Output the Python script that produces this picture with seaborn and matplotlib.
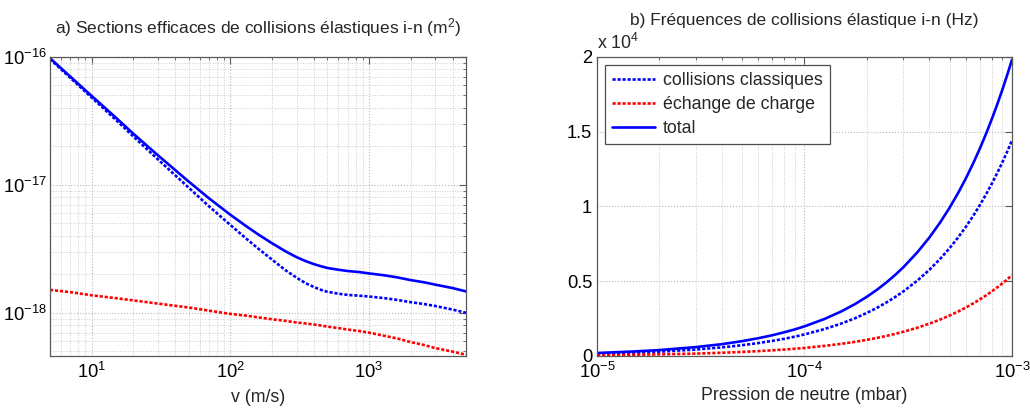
import pandas as pd
import matplotlib
matplotlib.use("Agg")
import matplotlib.pyplot as plt
import matplotlib.ticker as mticker
import seaborn as sns

# a) elastic ion-neutral cross sections (m^2) vs velocity (m/s)
v_ms = [5, 7, 10, 15, 20, 30, 50, 70, 100, 130, 160, 200, 250, 300, 350,
        400, 450, 500, 600, 700, 850, 1000, 1300, 1600, 2000, 2500, 3000,
        4000, 5000]
sigma_classic = [9.6e-17, 6.85e-17, 4.8e-17, 3.2e-17, 2.38e-17, 1.58e-17,
                 9.5e-18, 6.8e-18, 4.85e-18, 3.8e-18, 3.15e-18, 2.6e-18,
                 2.15e-18, 1.88e-18, 1.7e-18, 1.59e-18, 1.51e-18, 1.46e-18,
                 1.41e-18, 1.38e-18, 1.36e-18, 1.34e-18, 1.3e-18, 1.26e-18,
                 1.21e-18, 1.17e-18, 1.13e-18, 1.06e-18, 1.0e-18]
sigma_exchange = [1.51e-18, 1.45e-18, 1.37e-18, 1.3e-18, 1.25e-18, 1.18e-18,
                  1.1e-18, 1.04e-18, 9.8e-19, 9.5e-19, 9.2e-19, 8.9e-19,
                  8.65e-19, 8.4e-19, 8.25e-19, 8.1e-19, 7.95e-19, 7.8e-19,
                  7.6e-19, 7.4e-19, 7.2e-19, 7.0e-19, 6.6e-19, 6.3e-19,
                  5.9e-19, 5.6e-19, 5.3e-19, 4.98e-19, 4.7e-19]
sigma_total = [9.75e-17, 7.0e-17, 4.94e-17, 3.33e-17, 2.5e-17, 1.7e-17,
               1.06e-17, 7.85e-18, 5.83e-18, 4.75e-18, 4.07e-18, 3.49e-18,
               3.02e-18, 2.72e-18, 2.53e-18, 2.4e-18, 2.31e-18, 2.24e-18,
               2.17e-18, 2.12e-18, 2.08e-18, 2.03e-18, 1.96e-18, 1.89e-18,
               1.8e-18, 1.73e-18, 1.66e-18, 1.56e-18, 1.47e-18]

# b) elastic ion-neutral collision frequencies (Hz) vs neutral pressure (mbar)
p_mbar = [1e-5, 1.5e-5, 2e-5, 3e-5, 4e-5, 5e-5, 6e-5, 7e-5, 8e-5, 9e-5,
          1e-4, 1.25e-4, 1.5e-4, 1.75e-4, 2e-4, 2.25e-4, 2.5e-4, 2.75e-4,
          3e-4, 3.5e-4, 4e-4, 4.5e-4, 5e-4, 5.5e-4, 6e-4, 6.5e-4, 7e-4,
          7.5e-4, 8e-4, 8.5e-4, 9e-4, 9.5e-4, 1e-3]
nu_classic = [145, 215, 290, 430, 575, 720, 865, 1010, 1150, 1295,
              1440, 1800, 2160, 2520, 2880, 3240, 3600, 3960,
              4320, 5040, 5760, 6480, 7200, 7920, 8640, 9360, 10080,
              10800, 11520, 12240, 12960, 13680, 14400]
nu_exchange = [55, 80, 110, 160, 215, 270, 325, 380, 430, 485,
               540, 675, 810, 945, 1080, 1215, 1350, 1485,
               1620, 1890, 2160, 2430, 2700, 2970, 3240, 3510, 3780,
               4050, 4320, 4590, 4860, 5130, 5400]
nu_total = [200, 300, 395, 595, 790, 990, 1190, 1385, 1585, 1780,
            1980, 2475, 2970, 3465, 3960, 4455, 4950, 5445,
            5940, 6930, 7920, 8910, 9900, 10890, 11880, 12870, 13860,
            14850, 15840, 16830, 17820, 18810, 19800]

labels = ["collisions classiques", "échange de charge", "total"]
colors = ["blue", "red", "blue"]
dotted = (0, (1.2, 0.7))
styles = [dotted, dotted, "-"]

sns.set_theme(style="white")
plt.rcParams["font.family"] = ["Liberation Sans", "DejaVu Sans"]
plt.rcParams["mathtext.fontset"] = "custom"
plt.rcParams["mathtext.rm"] = "Liberation Sans"
plt.rcParams["mathtext.it"] = "Liberation Sans:italic"
plt.rcParams["mathtext.bf"] = "Liberation Sans:bold"

FS = 12.8
FS_TICK = 13.2
FS_TITLE = 12.5


def style_axes(ax):
    for sp in ax.spines.values():
        sp.set_color("0.35")
        sp.set_linewidth(0.9)
    ax.tick_params(which="both", direction="in", top=True, right=True,
                   color="0.35", labelsize=FS_TICK, labelcolor="black")
    ax.tick_params(which="major", length=5, width=0.8)
    ax.tick_params(which="minor", length=2.5, width=0.6)
    ax.grid(True, which="major", linestyle=":", color="0.72", linewidth=0.8)
    ax.grid(True, which="minor", linestyle=":", color="0.8", linewidth=0.7)
    ax.set_axisbelow(True)


fig = plt.figure(figsize=(10.3, 4.08), dpi=100)
ax1 = fig.add_axes([0.0485, 0.1275, 0.4039, 0.7335])
ax2 = fig.add_axes([0.5796, 0.1275, 0.4029, 0.7335])

# panel a
df_a = pd.DataFrame({"v": v_ms, "c": sigma_classic, "e": sigma_exchange,
                     "t": sigma_total})
for col, c, ls in zip(["c", "e", "t"], colors, styles):
    sns.lineplot(data=df_a, x="v", y=col, ax=ax1, color=c, linestyle=ls,
                 linewidth=1.9, legend=False)
ax1.set_xscale("log")
ax1.set_yscale("log")
ax1.set_xlim(5, 5000)
ax1.set_ylim(4.6e-19, 1e-16)
ax1.yaxis.set_minor_formatter(mticker.NullFormatter())
ax1.xaxis.set_minor_formatter(mticker.NullFormatter())
style_axes(ax1)
ax1.tick_params(axis="x", pad=4)
ax1.tick_params(axis="y", pad=2)
ax1.set_xlabel("v (m/s)", fontsize=FS, labelpad=5)
ax1.set_ylabel("")
ax1.set_title("a) Sections efficaces de collisions élastiques i-n (m$^2$)",
              fontsize=FS_TITLE, pad=17)

# panel b
df_b = pd.DataFrame({"p": p_mbar, "c": nu_classic, "e": nu_exchange,
                     "t": nu_total})
for col, lab, c, ls in zip(["c", "e", "t"], labels, colors, styles):
    sns.lineplot(data=df_b, x="p", y=col, ax=ax2, color=c, linestyle=ls,
                 linewidth=1.9, label=lab)
ax2.set_xscale("log")
ax2.set_xlim(1e-5, 1e-3)
ax2.set_ylim(0, 20000)
ax2.set_yticks([0, 5000, 10000, 15000, 20000])
ax2.yaxis.set_major_formatter(mticker.FuncFormatter(lambda y, _: f"{y / 1e4:g}"))
ax2.xaxis.set_minor_formatter(mticker.NullFormatter())
style_axes(ax2)
ax2.tick_params(axis="x", pad=4)
ax2.tick_params(axis="y", pad=3.5)
ax2.set_xlabel("Pression de neutre (mbar)", fontsize=FS, labelpad=4)
ax2.set_ylabel("")
ax2.set_title("b) Fréquences de collisions élastique i-n (Hz)",
              fontsize=FS_TITLE, pad=23)
ax2.text(0.0, 1.012, "x 10$^4$", transform=ax2.transAxes, fontsize=FS,
         ha="left", va="bottom")
leg = ax2.legend(loc="upper left", fontsize=FS, fancybox=False,
                 framealpha=1, edgecolor="0.3", handlelength=2.4,
                 borderpad=0.4, labelspacing=0.4, handletextpad=0.45,
                 borderaxespad=0.45)
leg.get_frame().set_linewidth(0.9)

fig.savefig("out.png", dpi=100)
plt.close(fig)
